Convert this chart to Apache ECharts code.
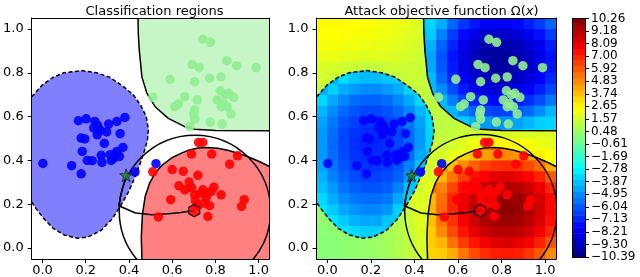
<!DOCTYPE html>
<html><head><meta charset="utf-8">
<script src="https://cdn.jsdelivr.net/npm/echarts@6/dist/echarts.min.js"></script>
<style>html,body{margin:0;padding:0;background:#fff}#c{width:640px;height:277px}</style>
</head><body><div id="c"></div>
<script>
// ---------------- data ----------------
const tickValues = [0, 0.2, 0.4, 0.6, 0.8, 1.0];
const axisMin = -0.05, axisMax = 1.05;

const bluePts = [[0.002,0.386],[0.135,0.376],[0.179,0.339],[0.166,0.581],[0.202,0.590],[0.242,0.578],[0.237,0.548],[0.268,0.536],[0.253,0.517],[0.306,0.566],[0.344,0.578],[0.381,0.596],[0.297,0.530],[0.359,0.522],[0.179,0.502],[0.196,0.498],[0.286,0.478],[0.184,0.441],[0.207,0.400],[0.230,0.399],[0.272,0.423],[0.275,0.391],[0.314,0.426],[0.318,0.400],[0.344,0.441],[0.372,0.459],[0.356,0.418],[0.428,0.347],[0.525,0.385],[0.260,0.545],[0.255,0.560],[0.330,0.410],[0.340,0.425]];
const redPts = [[0.722,0.482],[0.742,0.482],[0.689,0.429],[0.783,0.429],[0.902,0.421],[0.866,0.383],[0.510,0.348],[0.600,0.358],[0.651,0.350],[0.719,0.332],[0.631,0.284],[0.678,0.301],[0.658,0.266],[0.690,0.275],[0.704,0.243],[0.742,0.266],[0.780,0.258],[0.793,0.278],[0.826,0.243],[0.757,0.228],[0.747,0.205],[0.773,0.193],[0.707,0.217],[0.593,0.221],[0.933,0.221],[0.921,0.190],[0.765,0.144],[0.536,0.142],[0.730,0.250],[0.760,0.250],[0.720,0.195]];
const greenPts = [[0.742,0.953],[0.777,0.939],[0.692,0.838],[0.724,0.823],[0.852,0.855],[0.898,0.832],[0.988,0.823],[0.590,0.770],[0.704,0.759],[0.773,0.775],[0.826,0.781],[0.510,0.688],[0.658,0.691],[0.628,0.657],[0.612,0.645],[0.716,0.676],[0.822,0.718],[0.808,0.676],[0.861,0.706],[0.884,0.688],[0.846,0.700],[0.826,0.645],[0.854,0.645],[0.872,0.612],[0.704,0.630],[0.704,0.589],[0.776,0.575],[0.831,0.566],[0.681,0.554],[0.700,0.612],[0.835,0.660]];
const starPt = [[0.387,0.332]];
const hexPt = [[0.702,0.171]];

// decision boundaries
const blueBoundary = [[-0.05,0.69],[0.0,0.745],[0.05,0.78],[0.10,0.80],[0.18,0.81],[0.25,0.80],[0.31,0.78],[0.37,0.74],[0.42,0.70],[0.455,0.65],[0.48,0.60],[0.49,0.54],[0.485,0.49],[0.47,0.44],[0.45,0.38],[0.43,0.33],[0.40,0.26],[0.36,0.19],[0.32,0.13],[0.27,0.08],[0.21,0.05],[0.16,0.045],[0.10,0.06],[0.05,0.09],[0.01,0.13],[-0.03,0.18],[-0.05,0.21]];
const greenBoundary = [[0.442,1.05],[0.443,0.98],[0.448,0.90],[0.46,0.78],[0.483,0.706],[0.521,0.645],[0.582,0.592],[0.658,0.554],[0.704,0.542],[0.80,0.537],[1.05,0.535]];
const redBoundary = [[0.46,-0.05],[0.457,0.05],[0.462,0.15],[0.475,0.236],[0.495,0.295],[0.521,0.342],[0.555,0.38],[0.597,0.411],[0.64,0.432],[0.674,0.446],[0.72,0.457],[0.765,0.459],[0.81,0.455],[0.857,0.446],[0.90,0.434],[0.948,0.418],[1.0,0.396],[1.05,0.372]];
const blueRegion = blueBoundary;
const greenRegion = greenBoundary.concat([[axisMax, axisMax]]);
const redRegion = redBoundary.concat([[axisMax, axisMin]]);

// constraint circle [cx, cy, r] and attack path
const circles = [[0.705, 0.17, 0.35]];
const attackPath = [[0.702,0.171],[0.64,0.162],[0.582,0.157],[0.506,0.152],[0.43,0.16],[0.353,0.193],[0.360,0.231],[0.370,0.272],[0.380,0.305],[0.387,0.332]];

// Omega(x) field read on cell centres (rows from top to bottom)
const omegaX = [-0.025,0.025,0.075,0.125,0.175,0.225,0.275,0.325,0.375,0.425,0.475,0.525,0.575,0.625,0.675,0.725,0.775,0.825,0.875,0.925,0.975,1.025];
const omegaY = [1.025,0.975,0.925,0.875,0.825,0.775,0.725,0.675,0.625,0.575,0.525,0.475,0.425,0.375,0.325,0.275,0.225,0.175,0.125,0.075,0.025,-0.025];
const omega = [
[2.6,2.6,2.55,2.5,2.45,2.4,2.3,2.2,2.0,1.8,-3.5,-4.3,-5.7,-6.7,-7.4,-7.9,-8.0,-8.0,-7.7,-7.2,-6.6,-5.7],
[2.5,2.5,2.45,2.4,2.35,2.3,2.2,2.1,1.9,1.7,-3.7,-5.2,-6.6,-7.6,-8.3,-8.8,-8.9,-8.9,-8.6,-8.1,-7.5,-6.6],
[2.35,2.35,2.3,2.25,2.2,2.1,2.05,1.95,1.8,1.6,-4.2,-5.8,-7.1,-8.2,-8.9,-9.4,-9.5,-9.5,-9.2,-8.7,-8.1,-7.2],
[2.1,2.1,2.0,1.95,1.9,1.9,1.85,1.8,1.7,1.5,-4.5,-6.1,-7.4,-8.4,-9.2,-9.6,-9.8,-9.7,-9.4,-9.0,-8.3,-7.5],
[1.8,1.7,1.55,1.4,1.3,1.3,1.4,1.5,1.5,1.4,-4.4,-6.0,-7.3,-8.4,-9.1,-9.6,-9.7,-9.7,-9.4,-8.9,-8.3,-7.4],
[1.6,1.4,-3.3,-3.8,-4.0,-4.0,-3.8,1.3,1.4,1.4,-4.1,-5.7,-7.0,-8.0,-8.7,-9.2,-9.4,-9.3,-9.0,-8.6,-7.9,-7.0],
[1.3,-3.6,-4.3,-4.7,-5.0,-5.0,-4.7,-4.3,-3.6,1.3,1.3,-5.0,-6.3,-7.3,-8.1,-8.5,-8.7,-8.6,-8.4,-7.9,-7.2,-6.4],
[-3.4,-4.4,-5.1,-5.6,-5.8,-5.8,-5.6,-5.1,-4.4,-3.4,1.2,-4.0,-5.3,-6.4,-7.1,-7.6,-7.7,-7.7,-7.4,-6.9,-6.3,-5.4],
[-4.1,-5.0,-5.7,-6.1,-6.4,-6.4,-6.1,-5.7,-5.0,-4.1,1.2,1.2,-4.1,-5.1,-5.8,-6.3,-6.5,-6.4,-6.1,-5.7,-5.0,-4.1],
[-4.5,-5.4,-6.1,-6.5,-6.8,-6.8,-6.5,-6.1,-5.4,-4.5,-3.4,1.2,1.2,-3.6,-4.3,-4.7,-4.9,-4.8,-4.5,-4.1,-3.6,-3.5],
[-4.7,-5.6,-6.4,-6.8,-7.0,-7.0,-6.8,-6.4,-5.6,-4.7,-3.5,1.2,1.3,1.4,1.5,1.6,1.7,1.8,1.8,1.8,1.8,1.8],
[-4.7,-5.7,-6.4,-6.9,-7.1,-7.1,-6.9,-6.4,-5.7,-4.7,-3.6,1.4,1.6,1.9,2.2,2.5,2.6,2.6,2.5,2.4,2.2,2.0],
[-4.7,-5.6,-6.3,-6.8,-7.0,-7.0,-6.8,-6.3,-5.6,-4.4,1.5,1.7,2.1,3.4,3.8,4.4,4.8,4.9,4.7,4.3,2.8,2.5],
[-4.5,-5.4,-6.1,-6.6,-6.8,-6.8,-6.6,-6.1,-5.2,-3.9,1.6,2.0,3.8,4.9,5.8,6.4,6.7,6.8,6.7,6.2,5.5,4.2],
[-4.2,-5.2,-5.8,-6.3,-6.5,-6.5,-6.3,-5.8,-4.7,-3.4,1.8,4.0,5.3,6.4,7.3,7.9,8.2,8.3,8.1,7.7,7.0,5.9],
[-3.9,-4.7,-5.5,-5.9,-6.1,-6.1,-5.9,-5.2,-3.9,1.6,2.0,5.0,6.3,7.4,8.3,8.9,9.2,9.3,9.2,8.7,8.0,7.0],
[-3.4,-4.3,-5.0,-5.4,-5.6,-5.6,-5.4,-4.4,-3.4,1.8,3.9,5.5,6.9,8.0,8.8,9.4,9.8,9.9,9.7,9.3,8.5,7.5],
[0.5,-3.7,-4.4,-4.8,-5.1,-5.1,-4.8,-3.6,1.4,1.9,4.0,5.6,7.0,8.1,8.9,9.5,9.9,10.0,9.8,9.4,8.6,7.6],
[0.3,-3.2,-3.7,-4.2,-4.4,-4.4,-3.8,1.1,1.4,1.9,3.8,5.4,6.7,7.8,8.7,9.3,9.6,9.75,9.6,9.1,8.4,7.4],
[0.2,0.2,-3.2,-3.4,-3.6,-3.6,0.7,1.0,1.3,1.8,3.5,4.9,6.2,7.3,8.2,8.8,9.1,9.2,9.0,8.6,7.9,6.9],
[0.1,0.1,0.2,0.3,0.4,0.5,0.7,0.9,1.2,1.7,3.5,4.0,5.4,6.5,7.3,7.9,8.3,8.4,8.2,7.8,7.0,6.0],
[0.1,0.1,0.2,0.3,0.4,0.5,0.7,0.9,1.2,1.6,3.4,3.5,4.2,5.3,6.2,6.8,7.1,7.2,7.1,6.6,5.9,4.9]
];

// colour bar
const cbLabels = ['\u221210.39','\u22129.30','\u22128.21','\u22127.13','\u22126.04','\u22124.95','\u22123.87','\u22122.78','\u22121.69','\u22120.61','0.48','1.57','2.65','3.74','4.83','5.92','7.00','8.09','9.18','10.26'];
const cbMin = -10.39, cbMax = 10.26;

// ---------------- styling helpers ----------------
const FONT = 'DejaVu Sans';
function clamp01(v){ return Math.max(0, Math.min(1, v)); }
function jet(v){
  const t = clamp01((v - cbMin) / (cbMax - cbMin));
  const r = clamp01(Math.min(4*t - 1.5, -4*t + 4.5));
  const g = clamp01(Math.min(4*t - 0.5, -4*t + 3.5));
  const b = clamp01(Math.min(4*t + 0.5, -4*t + 2.5));
  return 'rgb(' + Math.round(r*255) + ',' + Math.round(g*255) + ',' + Math.round(b*255) + ')';
}
function inPoly(x, y, poly){
  let inside = false;
  for (let i = 0, j = poly.length - 1; i < poly.length; j = i++){
    const xi = poly[i][0], yi = poly[i][1], xj = poly[j][0], yj = poly[j][1];
    if (((yi > y) !== (yj > y)) && (x < (xj - xi) * (y - yi) / (yj - yi) + xi)) inside = !inside;
  }
  return inside;
}
// which decision region a cell's value belongs to (null = outside all regions)
function cellRegion(x, y, v){
  if (v >= 3.3) return redRegion;
  if (v <= -3) return inPoly(x, y, greenRegion) ? greenRegion : blueRegion;
  return null;
}

function frameX(gridIndex, position, labels){
  return {
    type:'value', gridIndex, position, min:axisMin, max:axisMax, z:10,
    axisLine:{show:true, onZero:false, lineStyle:{color:'#000', width:1}},
    splitLine:{show:false},
    axisTick: labels ? {show:true, length:4, lineStyle:{color:'#000'}, customValues: tickValues} : {show:false},
    axisLabel: labels ? {show:true, customValues: tickValues, formatter: v => v.toFixed(1), color:'#000', fontFamily:FONT, fontSize:13, margin:5} : {show:false}
  };
}
function frameY(gridIndex, position, labels){
  const a = frameX(gridIndex, position, labels);
  if (labels) a.axisLabel.margin = 8;
  return a;
}

const cellHalf = (omegaX[1] - omegaX[0]) / 2;
const fieldData = [];
omegaY.forEach((y, r) => omegaX.forEach((x, c) => fieldData.push([x, y, omega[r][c]])));

function fieldSeries(wantRegion, big, z){
  return {type:'custom', xAxisIndex:2, yAxisIndex:2, clip:true, z, silent:true, data:fieldData,
    renderItem:(params, api) => {
      const x = api.value(0), y = api.value(1), v = api.value(2);
      const reg = cellRegion(x, y, v);
      if ((reg !== null) !== wantRegion) return null;
      const e = big ? 3 * cellHalf : cellHalf;
      const p0 = api.coord([x - e, y + e]);
      const p1 = api.coord([x + e, y - e]);
      const el = {type:'rect', shape:{x:p0[0], y:p0[1], width:p1[0]-p0[0]+0.6, height:p1[1]-p0[1]+0.6}, style:{fill: jet(v), stroke:null}};
      if (reg) el.clipPath = {type:'polygon', shape:{points: reg.map(p => api.coord(p))}};
      return el;
    }};
}

const NB = 40;
const cbData = [];
for (let j = 0; j < NB; j++) cbData.push([0.5, j]);

function regionSeries(xi, yi){
  const regions = [blueRegion, greenRegion, redRegion];
  const fills = ['#8080ff', '#c6f5c6', '#ff8080'];
  return {
    type:'custom', xAxisIndex:xi, yAxisIndex:yi, clip:true, z:1, silent:true,
    data: regions.map((p, i) => [0.5, 0.5, i]),
    renderItem: (params, api) => {
      const i = api.value(2);
      return {type:'polygon', shape:{points: regions[i].map(p => api.coord(p))}, style:{fill: fills[i], stroke:null}};
    }
  };
}
function lineSeries(xi, yi, data, dashed){
  return {type:'line', xAxisIndex:xi, yAxisIndex:yi, data, showSymbol:false, symbol:'none', z:5, silent:true,
    lineStyle:{color:'#000', width:1.5, type: dashed ? [4,2.5] : 'solid'}, clip:true};
}
function circleSeries(xi, yi){
  return {type:'custom', xAxisIndex:xi, yAxisIndex:yi, clip:true, z:5, silent:true, data: circles,
    renderItem: (params, api) => {
      const c = api.coord([api.value(0), api.value(1)]);
      const r = api.size([api.value(2), 0])[0];
      return {type:'circle', shape:{cx:c[0], cy:c[1], r}, style:{fill:null, stroke:'#000', lineWidth:1.5}};
    }};
}
function scatterSeries(xi, yi, data, color){
  return {type:'scatter', xAxisIndex:xi, yAxisIndex:yi, data, symbolSize:9.5, z:6, silent:true,
    itemStyle:{color, opacity:0.9}};
}
const STAR = 'path://M50,0 L61,35 L98,35 L68,57 L79,91 L50,70 L21,91 L32,57 L2,35 L39,35 Z';
const HEX = 'path://M50,0 L93.3,25 L93.3,75 L50,100 L6.7,75 L6.7,25 Z';
function markerSeries(xi, yi){
  return [
    {type:'scatter', xAxisIndex:xi, yAxisIndex:yi, data:hexPt, symbol:HEX, symbolSize:[11,12.5], z:8, silent:true,
      itemStyle:{color:'#ff0000', borderColor:'#000', borderWidth:1.3}},
    {type:'scatter', xAxisIndex:xi, yAxisIndex:yi, data:starPt, symbol:STAR, symbolSize:13, z:8, silent:true,
      itemStyle:{color:'#2a8a2a', borderColor:'#000', borderWidth:0.8}}
  ];
}
function panelSeries(xi, yi){
  return [
    lineSeries(xi, yi, blueBoundary, true),
    lineSeries(xi, yi, greenBoundary, false),
    lineSeries(xi, yi, redBoundary, false),
    circleSeries(xi, yi),
    lineSeries(xi, yi, attackPath, false),
    scatterSeries(xi, yi, bluePts, '#0000ff'),
    scatterSeries(xi, yi, redPts, '#ff0000'),
    scatterSeries(xi, yi, greenPts, '#90ee90'),
    ...markerSeries(xi, yi)
  ];
}

const option = {
  animation:false,
  backgroundColor:'#fff',
  title:[
    {text:'Classification regions', left:149.5, top:0, textAlign:'center',
      textStyle:{fontFamily:FONT, fontSize:13, fontWeight:'normal', color:'#000'}},
    {text:'Attack objective function \u03A9({i|x})', left:436.5, top:0, textAlign:'center',
      textStyle:{fontFamily:FONT, fontSize:13, fontWeight:'normal', color:'#000',
        rich:{i:{fontFamily:FONT, fontSize:13, fontStyle:'italic', color:'#000'}}}}
  ],
  grid:[
    {left:29.5, top:18, width:240, height:241},
    {left:316.5, top:18, width:239.5, height:241},
    {left:572.5, top:18.5, width:12.5, height:238.5}
  ],
  xAxis:[
    frameX(0,'bottom',true), frameX(0,'top',false),
    frameX(1,'bottom',true), frameX(1,'top',false),
    {type:'value', gridIndex:2, min:0, max:1, position:'bottom', z:10, axisLine:{show:true,onZero:false,lineStyle:{color:'#000'}}, axisTick:{show:false}, axisLabel:{show:false}, splitLine:{show:false}},
    {type:'value', gridIndex:2, min:0, max:1, position:'top', z:10, axisLine:{show:true,onZero:false,lineStyle:{color:'#000'}}, axisTick:{show:false}, axisLabel:{show:false}, splitLine:{show:false}}
  ],
  yAxis:[
    frameY(0,'left',true), frameY(0,'right',false),
    frameY(1,'left',true), frameY(1,'right',false),
    {type:'value', gridIndex:2, min:0, max:cbLabels.length-1, position:'left', z:10, axisLine:{show:true,onZero:false,lineStyle:{color:'#000'}}, axisTick:{show:false}, axisLabel:{show:false}, splitLine:{show:false}},
    {type:'value', gridIndex:2, min:0, max:cbLabels.length-1, interval:1, position:'right', z:10,
      axisLine:{show:true,onZero:false,lineStyle:{color:'#000'}},
      axisTick:{show:true, length:4, lineStyle:{color:'#000'}},
      axisLabel:{show:true, margin:6, color:'#000', fontFamily:FONT, fontSize:12, formatter: v => cbLabels[Math.round(v)]},
      splitLine:{show:false}}
  ],
  series:[
    regionSeries(0, 0),
    ...panelSeries(0, 0),
    fieldSeries(false, true, 1),
    fieldSeries(false, false, 2),
    fieldSeries(true, true, 3),
    fieldSeries(true, false, 4),
    ...panelSeries(2, 2),
    {type:'custom', xAxisIndex:4, yAxisIndex:5, clip:true, z:1, silent:true, data:cbData,
      renderItem:(params, api) => {
        const j = api.value(1);
        const span = cbLabels.length - 1;
        const p0 = api.coord([0, (j+1)*span/NB]);
        const p1 = api.coord([1, j*span/NB]);
        const v = cbMin + (j+0.5)/NB*(cbMax-cbMin);
        return {type:'rect', shape:{x:p0[0], y:p0[1], width:p1[0]-p0[0], height:p1[1]-p0[1]+0.6}, style:{fill: jet(v), stroke:null}};
      }}
  ]
};
const chart = echarts.init(document.getElementById('c'), null, {renderer:'canvas'});
chart.setOption(option);
</script>
</body></html>
